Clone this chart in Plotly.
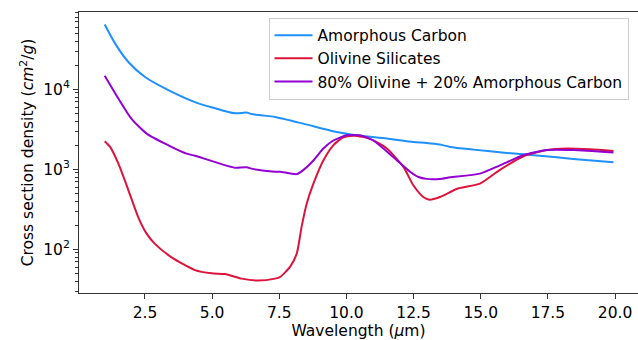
import plotly.graph_objects as go

# Amorphous Carbon
carbon_wl = [1.0, 1.39, 1.88, 2.5, 3.37, 4.36, 5.6, 5.85, 6.1, 6.28, 6.47, 6.84, 7.34, 8.39,
             9.64, 10.38, 11.5, 12.49, 12.99, 13.48, 13.86, 14.72, 15.97, 17.2, 18.44, 19.94]
carbon_val = [64600, 37240, 21930, 14260, 9772, 6918, 5200, 5012, 5058, 5129, 4898, 4732, 4508, 3724,
              2924, 2661, 2421, 2188, 2138, 2042, 1905, 1762, 1600, 1479, 1349, 1223]

# Olivine Silicates
olivine_wl = [1.0, 1.2, 1.51, 1.88, 2.25, 2.56, 2.87, 3.49, 4.36, 4.98, 5.48, 6.1, 6.7, 7.34, 7.53,
              7.9, 8.15, 8.33, 8.52, 8.77, 9.14, 9.51, 9.88, 10.3, 10.88, 11.5, 12.12, 12.49, 12.86,
              13.1, 13.48, 14.15, 14.97, 15.7, 16.58, 17.46, 18.2, 19.07, 19.94]
olivine_val = [2239, 1905, 1175, 550, 251, 157, 117, 79.4, 55, 50.1, 49, 43, 40.7, 43, 45.1,
               60.3, 88.3, 190.5, 371.5, 661, 1288, 1995, 2512, 2630, 2399, 1820, 1072, 631, 451,
               417, 451, 575, 661, 977, 1445, 1738, 1820, 1778, 1698]

# 80% Olivine + 20% Amorphous Carbon
mix_wl = [1.0, 1.51, 2.0, 2.56, 3.37, 4.05, 4.36, 5.6, 5.85, 6.28, 6.5, 7.34, 7.53, 8.15, 8.39,
          8.77, 9.14, 9.51, 10.01, 10.5, 11.0, 11.74, 12.37, 12.68, 12.99, 13.48, 13.86, 14.97, 15.72,
          16.58, 17.46, 18.44, 19.94]
mix_val = [14791, 7656, 4266, 2793, 1995, 1570, 1479, 1096, 1047, 1059, 1012, 933, 933, 871, 977,
           1288, 1820, 2291, 2661, 2661, 2291, 1426, 933, 802, 759, 759, 794, 883, 1122,
           1496, 1738, 1738, 1622]

series_names = ["Amorphous Carbon", "Olivine Silicates", "80% Olivine + 20% Amorphous Carbon"]
series_colors = ["#1E90FF", "#DC143C", "#9400D3"]

x_ticks = [2.5, 5.0, 7.5, 10.0, 12.5, 15.0, 17.5, 20.0]
y_ticks = [100, 1000, 10000]
y_ticktext = ["10<sup>2</sup>", "10<sup>3</sup>", "10<sup>4</sup>"]
y_minor = [m * d for d in (10, 100, 1000, 10000) for m in range(2, 10)]

fig = go.Figure()
for xs, ys, name, col in zip([carbon_wl, olivine_wl, mix_wl],
                             [carbon_val, olivine_val, mix_val],
                             series_names, series_colors):
    fig.add_trace(go.Scatter(x=xs, y=ys, mode="lines", name=name,
                             line=dict(color=col, width=2, shape="spline", smoothing=0.6)))

font_family = "DejaVu Sans"
fs = 15.5
fig.update_layout(
    width=638, height=340,
    margin=dict(l=79, r=0, t=12, b=47),
    plot_bgcolor="white", paper_bgcolor="white",
    font=dict(family=font_family, size=fs, color="black"),
    showlegend=True,
    legend=dict(x=0.339, y=0.98, xanchor="left", yanchor="top",
                bgcolor="rgba(255,255,255,0.8)", bordercolor="#cccccc", borderwidth=1,
                font=dict(size=fs, family=font_family), tracegroupgap=0, itemwidth=38),
    xaxis=dict(range=[0.043, 20.855], tickvals=x_ticks, ticktext=[f"{v:.1f}" for v in x_ticks],
               ticks="outside", ticklen=5, tickwidth=1, tickcolor="#333",
               showline=True, linecolor="#333", linewidth=1, mirror=True,
               showgrid=False, zeroline=False,
               title=dict(text="Wavelength (<i>μ</i>m)", standoff=4,
                          font=dict(size=fs, family=font_family))),
    yaxis=dict(type="log", range=[1.454, 4.966], tickvals=y_ticks, ticktext=y_ticktext,
               ticks="outside", ticklen=5, tickwidth=1, tickcolor="#333",
               minor=dict(tickvals=y_minor, ticks="outside", ticklen=3, tickwidth=0.8, tickcolor="#333"),
               showline=True, linecolor="#333", linewidth=1, mirror=False,
               showgrid=False, zeroline=False,
               title=dict(text="Cross section density (<i>cm</i><sup>2</sup>/<i>g</i>)", standoff=5,
                          font=dict(size=fs, family=font_family))),
)

fig.write_html("out.html")
